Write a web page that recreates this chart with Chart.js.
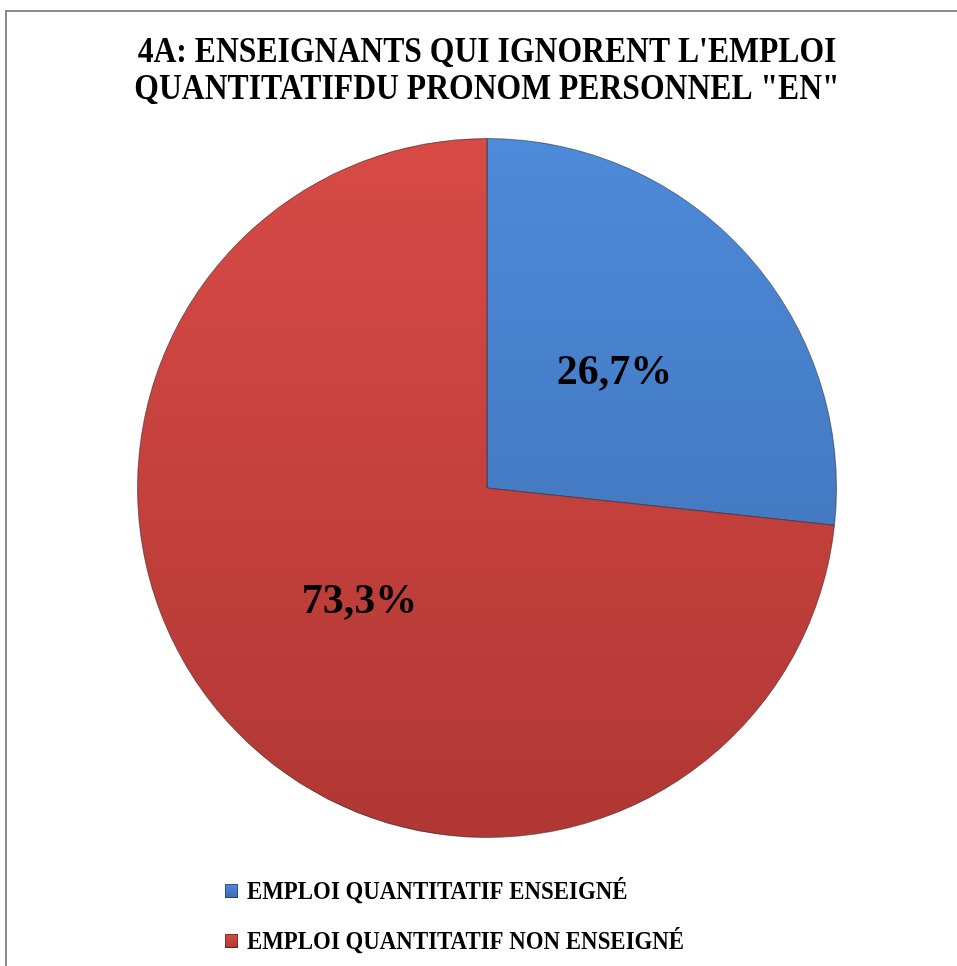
<!DOCTYPE html>
<html>
<head>
<meta charset="utf-8">
<script src="https://cdn.jsdelivr.net/npm/chart.js@4"></script>
<style>
  html, body { margin: 0; padding: 0; background: #fff; }
  #wrap { position: relative; width: 957px; height: 966px; overflow: hidden; }
  #frame {
    position: absolute; left: 5px; top: 10px; width: 1000px; height: 1000px;
    border-left: 2px solid #8c8c8c; border-top: 2px solid #8c8c8c;
    box-sizing: border-box;
  }
  canvas { position: absolute; left: 0; top: 0; }
</style>
</head>
<body>
<div id="wrap">
  <div id="frame"></div>
  <canvas id="pie" width="957" height="966"></canvas>
</div>
<script>
// ---- Data ----
const TITLE_LINES = [
  "4A: ENSEIGNANTS QUI IGNORENT L'EMPLOI",
  "QUANTITATIFDU PRONOM PERSONNEL \"EN\""
];
const CATEGORIES = ["EMPLOI QUANTITATIF ENSEIGNÉ", "EMPLOI QUANTITATIF NON ENSEIGNÉ"];
const VALUES = [26.7, 73.3];

// ---- Palette (top / bottom of each slice gradient) ----
const SLICE_TOP = ["#4d8ad9", "#d84a46"];
const SLICE_BOTTOM = ["#3b6cae", "#b03733"];
const SERIF = "'Liberation Serif', 'Times New Roman', serif";

function sliceFill(context) {
  const chart = context.chart;
  const area = chart.chartArea;
  if (!area) return SLICE_TOP[context.dataIndex];
  const g = chart.ctx.createLinearGradient(0, area.top, 0, area.bottom);
  g.addColorStop(0, SLICE_TOP[context.dataIndex]);
  g.addColorStop(1, SLICE_BOTTOM[context.dataIndex]);
  return g;
}

// draw text squeezed horizontally (condensed look)
function squeezedText(ctx, text, x, y, sx, align) {
  ctx.save();
  ctx.translate(x, y);
  ctx.scale(sx, 1);
  ctx.textAlign = align;
  ctx.fillText(text, 0, 0);
  ctx.restore();
}

const decorPlugin = {
  id: "decor",
  afterDatasetsDraw(chart) {
    const ctx = chart.ctx;
    const meta = chart.getDatasetMeta(0);
    // percentage labels inside slices
    ctx.save();
    ctx.fillStyle = "#000";
    ctx.font = "bold 42px " + SERIF;
    ctx.textBaseline = "middle";
    meta.data.forEach((arc, i) => {
      const mid = (arc.startAngle + arc.endAngle) / 2;
      const r = arc.outerRadius * 0.49;
      const x = arc.x + Math.cos(mid) * r;
      const y = arc.y + Math.sin(mid) * r;
      squeezedText(ctx, VALUES[i].toFixed(1).replace(".", ",") + "%", x, y, 1.0, "center");
    });
    ctx.restore();
  },
  afterDraw(chart) {
    const ctx = chart.ctx;
    const cx = (chart.chartArea.left + chart.chartArea.right) / 2;
    ctx.save();
    ctx.fillStyle = "#000";
    ctx.textBaseline = "alphabetic";
    // title
    ctx.font = "bold 35px " + SERIF;
    TITLE_LINES.forEach((line, i) => {
      squeezedText(ctx, line, cx, 62 + i * 37, 0.905, "center");
    });
    // legend
    ctx.font = "bold 26px " + SERIF;
    CATEGORIES.forEach((label, i) => {
      const y = 891 + i * 50;
      const g = ctx.createLinearGradient(0, y - 7, 0, y + 7);
      g.addColorStop(0, SLICE_TOP[i]);
      g.addColorStop(1, SLICE_BOTTOM[i]);
      ctx.fillStyle = g;
      ctx.fillRect(225, y - 7, 13, 14);
      ctx.strokeStyle = "rgba(0,0,0,0.35)";
      ctx.lineWidth = 1;
      ctx.strokeRect(225.5, y - 6.5, 12, 13);
      ctx.fillStyle = "#000";
      ctx.textBaseline = "middle";
      squeezedText(ctx, label, 247, y + 1, 0.88, "left");
    });
    ctx.restore();
  }
};

new Chart(document.getElementById("pie"), {
  type: "pie",
  data: {
    labels: CATEGORIES,
    datasets: [{
      data: VALUES,
      backgroundColor: sliceFill,
      borderColor: "rgba(40,40,40,0.55)",
      borderWidth: 1
    }]
  },
  options: {
    responsive: false,
    animation: false,
    layout: { padding: { left: 137, right: 120, top: 138, bottom: 128 } },
    plugins: {
      legend: { display: false },
      title: { display: false },
      tooltip: { enabled: false }
    }
  },
  plugins: [decorPlugin]
});
</script>
</body>
</html>
